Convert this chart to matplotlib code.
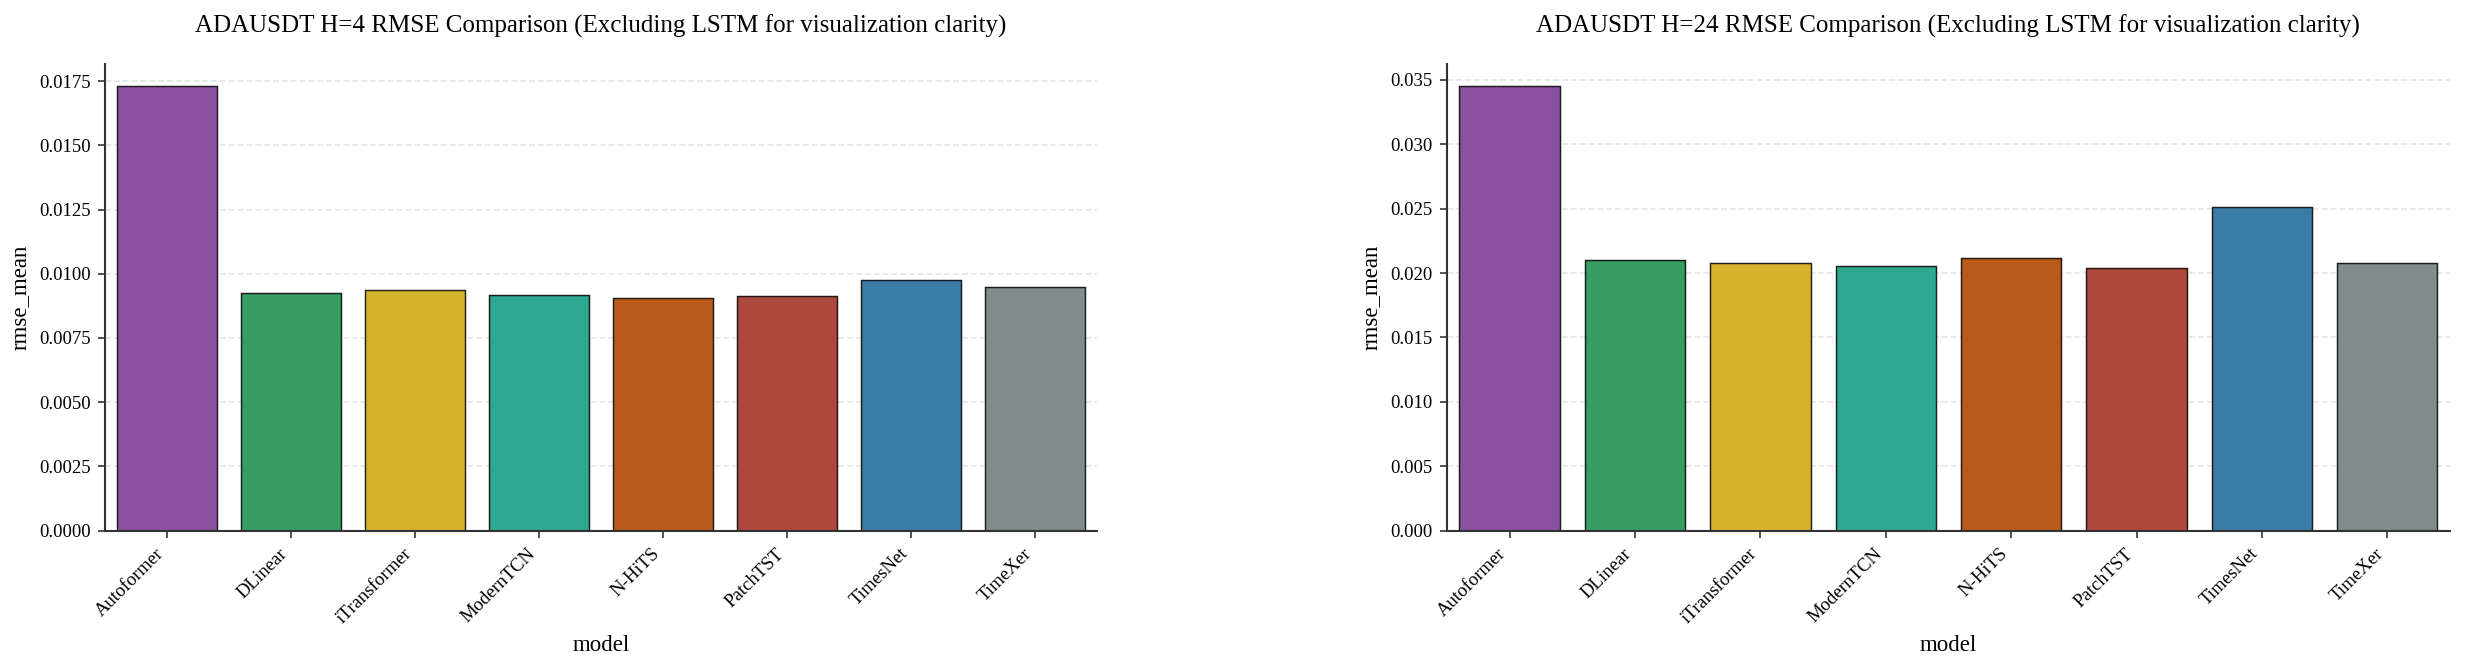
import colorsys
import matplotlib
matplotlib.use("Agg")
import matplotlib.pyplot as plt
from matplotlib.colors import to_rgb

plt.rcParams['font.family'] = ['Liberation Serif', 'DejaVu Serif']

models = ["Autoformer", "DLinear", "iTransformer", "ModernTCN", "N-HiTS", "PatchTST", "TimesNet", "TimeXer"]
rmse_h4 = [0.01730, 0.00924, 0.00937, 0.00917, 0.00907, 0.00912, 0.00974, 0.00949]
rmse_h24 = [0.03450, 0.02103, 0.02074, 0.02057, 0.02117, 0.02037, 0.02516, 0.02074]
base_colors = ["#8e44ad", "#27ae60", "#f1c40f", "#1abc9c", "#d35400", "#c0392b", "#2980b9", "#7f8c8d"]
titles = ["ADAUSDT H=4 RMSE Comparison (Excluding LSTM for visualization clarity)",
          "ADAUSDT H=24 RMSE Comparison (Excluding LSTM for visualization clarity)"]


def desat(c, prop=0.75):
    r, g, b = to_rgb(c)
    h, l, s = colorsys.rgb_to_hls(r, g, b)
    return colorsys.hls_to_rgb(h, l, s * prop)


colors = [desat(c) for c in base_colors]

fig = plt.figure(figsize=(2467 / 150, 666 / 150), dpi=150)
ax1 = fig.add_axes([0.0426, 0.2032, 0.4021, 0.7007])
ax2 = fig.add_axes([0.5865, 0.2032, 0.4066, 0.7007])

for ax, vals, title in [(ax1, rmse_h4, titles[0]), (ax2, rmse_h24, titles[1])]:
    x = range(len(models))
    ax.bar(x, vals, width=0.8, color=colors, edgecolor=(0, 0, 0, 0.85), linewidth=0.7, zorder=2)
    ax.set_xlim(-0.5, len(models) - 0.5)
    ax.set_xticks(list(x))
    ax.set_xticklabels(models, rotation=45, ha='right', fontsize=9)
    ax.tick_params(axis='y', labelsize=9)
    ax.tick_params(axis='both', color='#333333', length=3.5, width=0.8)
    ax.set_xlabel("model", fontsize=11)
    ax.set_ylabel("rmse_mean", fontsize=11)
    ax.set_title(title, fontsize=12, pad=15)
    ax.grid(axis='y', linestyle='--', color='#cccccc', alpha=0.5, linewidth=0.8, zorder=0)
    ax.set_axisbelow(True)
    for s in ['top', 'right']:
        ax.spines[s].set_visible(False)
    for s in ['left', 'bottom']:
        ax.spines[s].set_color('#333333')
        ax.spines[s].set_linewidth(1.0)

ax1.yaxis.set_major_formatter(matplotlib.ticker.FormatStrFormatter('%.4f'))
ax2.yaxis.set_major_formatter(matplotlib.ticker.FormatStrFormatter('%.3f'))

fig.savefig("out.png", dpi=150)
